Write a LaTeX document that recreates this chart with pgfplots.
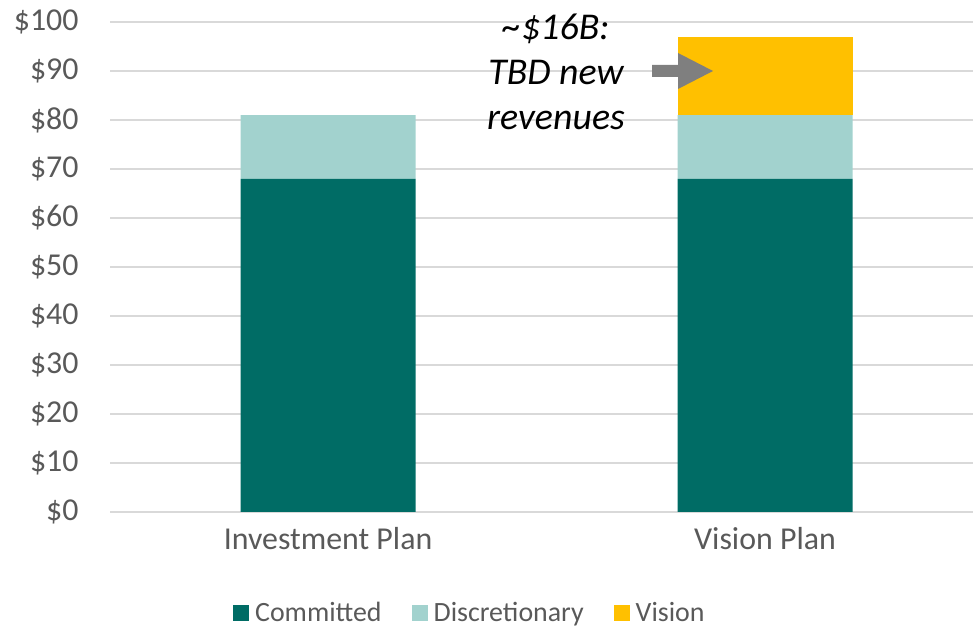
\documentclass[border=0pt]{standalone}
\usepackage{pgfplots}
\pgfplotsset{compat=1.18}
\usepackage{fontspec}
\setmainfont{Carlito}
\definecolor{committed}{HTML}{006C65}
\definecolor{discretionary}{HTML}{A2D2CE}
\definecolor{vision}{HTML}{FFC000}
\definecolor{gridc}{HTML}{D9D9D9}
\definecolor{labc}{HTML}{595959}
\definecolor{arrowc}{HTML}{7F7F7F}
\begin{document}
\begin{tikzpicture}[x=1bp,y=1bp]
\useasboundingbox (0,0) rectangle (973,628);
\begin{axis}[
  at={(110bp,116bp)}, anchor=south west,
  scale only axis, width=863bp, height=490bp,
  ybar stacked, bar width=175bp,
  xmin=-0.499, xmax=1.476, ymin=0, ymax=100,
  xtick={0,1}, xticklabels={Investment Plan,Vision Plan},
  ytick={0,10,...,100},
  yticklabels={\$0,\$10,\$20,\$30,\$40,\$50,\$60,\$70,\$80,\$90,\$100},
  major tick length=0pt,
  axis x line*=bottom, axis y line*=left,
  x axis line style={draw=gridc, line width=1.5bp},
  y axis line style={draw=none},
  ymajorgrids, grid style={gridc, line width=1.5bp},
  ticklabel style={font=\fontsize{32}{38}\selectfont, text=labc},
  yticklabel style={xshift=-28bp},
  xticklabel style={yshift=-12bp},
  legend columns=3,
  legend style={at={(0.417,-0.206)}, anchor=center, draw=none, fill=none,
    font=\fontsize{28}{34}\selectfont, text=labc,
    /tikz/every odd column/.append style={column sep=4bp},
    /tikz/every even column/.append style={column sep=28bp}},
  legend image code/.code={\fill[#1] (0bp,-8bp) rectangle (16bp,8bp);},
]
\addplot[fill=committed, draw=none] coordinates {(0,68) (1,68)};
\addlegendentry{Committed}
\addplot[fill=discretionary, draw=none] coordinates {(0,13) (1,13)};
\addlegendentry{Discretionary}
\addplot[fill=vision, draw=none] coordinates {(1,16)};
\addlegendentry{Vision}
\end{axis}
\fill[arrowc] (652,563) -- (678,563) -- (678,575) -- (713,557) -- (678,539) -- (678,551) -- (652,551) -- cycle;
\node[align=center, font=\fontsize{38}{45}\selectfont\itshape] at (556,556) {\textasciitilde\$16B:\\TBD new\\revenues};
\end{tikzpicture}
\end{document}
